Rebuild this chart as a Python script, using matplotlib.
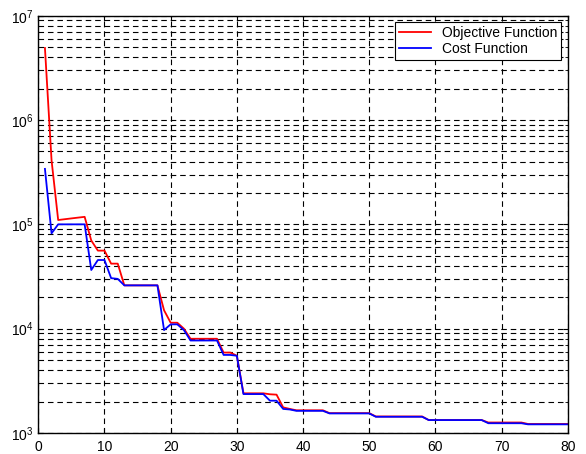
import matplotlib
matplotlib.use("Agg")
import matplotlib.pyplot as plt
from matplotlib.ticker import LogLocator, FixedLocator, NullFormatter
import numpy as np

iterations = list(range(1, 81))

objective = ([4.9e6, 4.1e5, 1.10e5, 1.12e5, 1.14e5, 1.16e5, 1.18e5, 7.0e4, 5.6e4, 5.6e4,
              4.2e4, 4.2e4] + [2.6e4] * 6 +
             [1.5e4, 1.14e4, 1.14e4, 1.0e4] + [8.0e3] * 5 +
             [5.9e3, 5.9e3, 5.5e3] + [2.4e3] * 4 + [2.35e3, 2.33e3, 1.76e3, 1.7e3] +
             [1.65e3] * 5 + [1.55e3] * 7 + [1.44e3] * 8 + [1.33e3] * 9 +
             [1.26e3] * 6 + [1.22e3] * 7)

cost = ([3.4e5, 8.2e4] + [1.0e5] * 5 + [3.65e4, 4.55e4, 4.55e4, 3.05e4, 3.0e4] +
        [2.6e4] * 6 + [9.7e3, 1.1e4, 1.1e4, 9.7e3] + [7.7e3] * 5 +
        [5.6e3, 5.6e3, 5.5e3] + [2.36e3] * 4 + [2.04e3, 2.04e3, 1.7e3, 1.68e3] +
        [1.63e3] * 5 + [1.54e3] * 7 + [1.43e3] * 8 + [1.33e3] * 9 +
        [1.24e3] * 6 + [1.21e3] * 7)

x_ticks = [0, 10, 20, 30, 40, 50, 60, 70, 80]

plt.rcParams['font.family'] = ['Liberation Sans', 'DejaVu Sans']
plt.rcParams['mathtext.fontset'] = 'custom'
plt.rcParams['mathtext.rm'] = 'Liberation Sans'
plt.rcParams['mathtext.it'] = 'Liberation Sans'
plt.rcParams['mathtext.default'] = 'regular'

fig = plt.figure(figsize=(5.86, 4.54), dpi=100)
ax = fig.add_axes([0.0654, 0.0463, 0.9034, 0.9191])

ax.semilogy(iterations, objective, color='#ff0000', lw=1.3, label='Objective Function')
ax.semilogy(iterations, cost, color='#0000ff', lw=1.3, label='Cost Function')

ax.set_xlim(0, 80)
ax.set_ylim(1e3, 1e7)
ax.xaxis.set_major_locator(FixedLocator(x_ticks))
ax.yaxis.set_major_locator(LogLocator(base=10, numticks=10))
ax.yaxis.set_minor_locator(LogLocator(base=10, subs=np.arange(2, 10), numticks=20))
ax.yaxis.set_minor_formatter(NullFormatter())

dash = (0, (5, 3.5))
ax.grid(True, which='major', axis='both', color='black', linestyle=dash, lw=0.8)
ax.grid(True, which='minor', axis='y', color='black', linestyle=dash, lw=0.8)

ax.tick_params(which='both', direction='in', top=True, right=True, labelsize=10)
ax.tick_params(axis='x', pad=5)
for s in ax.spines.values():
    s.set_linewidth(1.0)

leg = ax.legend(loc='upper right', fontsize=10, fancybox=False, framealpha=1,
                edgecolor='black', borderaxespad=0.45, handlelength=2.3,
                handletextpad=0.8, borderpad=0.3, labelspacing=0.15)
leg.get_frame().set_linewidth(0.8)

fig.savefig('out.png', dpi=100)
